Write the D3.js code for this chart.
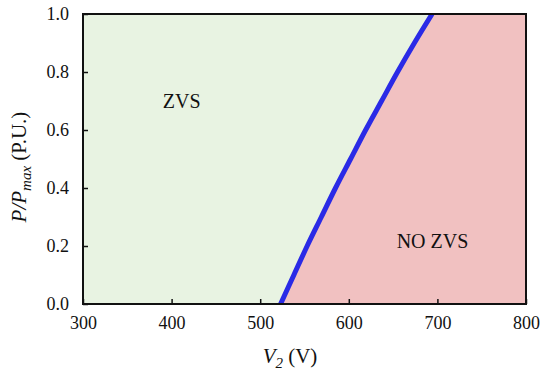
<!DOCTYPE html>
<meta charset="utf-8">
<script src="https://d3js.org/d3.v7.min.js"></script>
<style>
    body { margin: 0; background: #fff; }
</style>
<div id="chart"></div>
<script>
    // boundary between ZVS and NO ZVS regions
    var pLevels = [0, 0.1, 0.2, 0.3, 0.4, 0.5, 0.6, 0.7, 0.8, 0.9, 1.0];
    var vBoundary = [523, 538, 553, 569, 585, 602, 619, 637, 655, 674, 694];
    var xTicks = [300, 400, 500, 600, 700, 800];
    var yTicks = [0, 0.2, 0.4, 0.6, 0.8, 1.0];

    var serif = "'Liberation Serif', serif";

    var margin = { top: 14, right: 24, bottom: 74, left: 83 },
        width = 550 - margin.left - margin.right,
        height = 378 - margin.top - margin.bottom;

    var svg = d3.select("#chart")
        .append("svg")
        .attr("width", 550)
        .attr("height", 378)
        .append("g")
        .attr("transform", "translate(" + margin.left + "," + margin.top + ")");

    var x = d3.scaleLinear().domain([300, 800]).range([0, width]);
    var y = d3.scaleLinear().domain([0, 1]).range([height, 0]);

    var pts = pLevels.map(function (p, i) { return { p: p, v: vBoundary[i] }; });

    // pink background = NO ZVS, green area left of the curve = ZVS
    svg.append("rect")
        .attr("width", width).attr("height", height)
        .style("fill", "#f1c1c1");

    var zvsArea = d3.area()
        .y(function (d) { return y(d.p); })
        .x0(x(300))
        .x1(function (d) { return x(d.v); })
        .curve(d3.curveCatmullRom);
    svg.append("path")
        .datum(pts)
        .attr("d", zvsArea)
        .style("fill", "#e8f3e2");

    // axes with inward ticks
    svg.append("g")
        .attr("transform", "translate(0," + height + ")")
        .call(d3.axisBottom(x).tickValues(xTicks).tickSizeInner(-5).tickSizeOuter(0).tickPadding(12))
        .call(function (g) {
            g.select(".domain").remove();
            g.selectAll("line").attr("stroke", "#111").attr("stroke-width", 1.5);
            g.selectAll("text").style("font-size", "18px").style("font-family", serif).attr("fill", "#111");
        });

    svg.append("g")
        .call(d3.axisLeft(y).tickValues(yTicks).tickFormat(d3.format(".1f")).tickSizeInner(-5).tickSizeOuter(0).tickPadding(14))
        .call(function (g) {
            g.select(".domain").remove();
            g.selectAll("line").attr("stroke", "#111").attr("stroke-width", 1.5);
            g.selectAll("text").style("font-size", "18px").style("font-family", serif).attr("fill", "#111");
        });

    // boundary curve
    var line = d3.line()
        .x(function (d) { return x(d.v); })
        .y(function (d) { return y(d.p); })
        .curve(d3.curveCatmullRom);
    svg.append("clipPath").attr("id", "clip")
        .append("rect").attr("width", width).attr("height", height);
    svg.append("path")
        .datum(pts)
        .attr("d", line)
        .attr("clip-path", "url(#clip)")
        .style("fill", "none")
        .style("stroke", "#2a2ae6")
        .style("stroke-width", 5);

    // frame
    svg.append("rect")
        .attr("width", width).attr("height", height)
        .style("fill", "none")
        .style("stroke", "#111")
        .style("stroke-width", 2);

    // region labels
    svg.append("text")
        .attr("x", x(390)).attr("y", y(0.675))
        .style("font-size", "20px").style("font-family", serif).style("fill", "#111")
        .text("ZVS");
    svg.append("text")
        .attr("x", x(654)).attr("y", y(0.193))
        .style("font-size", "20px").style("font-family", serif).style("fill", "#111")
        .text("NO ZVS");

    // x axis label
    var xl = svg.append("text")
        .attr("x", 207).attr("y", height + 59)
        .attr("text-anchor", "middle")
        .style("font-size", "21px").style("font-family", serif).style("fill", "#111");
    xl.append("tspan").style("font-style", "italic").text("V");
    xl.append("tspan").style("font-style", "italic").style("font-size", "15px").attr("dy", 5).text("2");
    xl.append("tspan").attr("dy", -5).text(" (V)");

    // y axis label
    var yl = svg.append("text")
        .attr("transform", "translate(-57," + 153 + ") rotate(-90)")
        .attr("text-anchor", "middle")
        .style("font-size", "21px").style("font-family", serif).style("fill", "#111");
    yl.append("tspan").style("font-style", "italic").text("P/P");
    yl.append("tspan").style("font-style", "italic").style("font-size", "15px").attr("dy", 5).text("max");
    yl.append("tspan").attr("dy", -5).text(" (P.U.)");
</script>
